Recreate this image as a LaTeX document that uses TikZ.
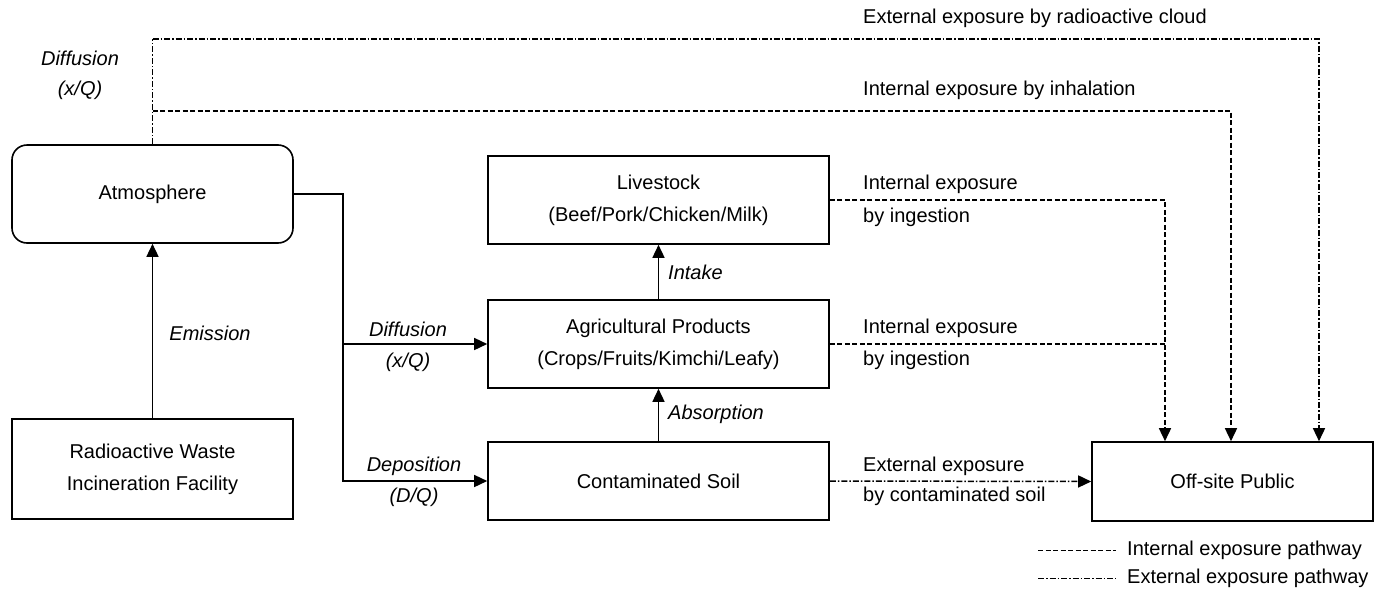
\documentclass[tikz,border=0pt]{standalone}
\usepackage{fontspec}
\setmainfont{Liberation Sans}
\usetikzlibrary{arrows.meta}
\begin{document}
\begin{tikzpicture}[x=1pt,y=-1pt,
  every node/.style={font=\fontsize{20}{32}\selectfont, inner sep=0pt},
  box/.style={draw, line width=1.6pt, align=center},
  lbl/.style={anchor=west},
  itl/.style={font=\fontsize{20}{32}\selectfont\itshape},
  conn/.style={line width=1.5pt},
  arr/.style={-{Triangle[length=13pt,width=12pt]}},
  intl/.style={conn, dash pattern=on 5pt off 2.5pt},
  extl/.style={conn, dash pattern=on 6pt off 2pt on 1.5pt off 2pt},
]
\useasboundingbox (0,0) rectangle (1389,592);
% boxes
\node[box, rounded corners=15pt, minimum width=281pt, minimum height=98pt] (atm) at (152.5,194) {Atmosphere};
\node[box, minimum width=281pt, minimum height=100pt] (src) at (152.5,469) {Radioactive Waste\\Incineration Facility};
\node[box, minimum width=341pt, minimum height=88pt] (live) at (658.5,200) {Livestock\\(Beef/Pork/Chicken/Milk)};
\node[box, minimum width=341pt, minimum height=88pt] (agri) at (658.5,344) {Agricultural Products\\(Crops/Fruits/Kimchi/Leafy)};
\node[box, minimum width=341pt, minimum height=78pt] (soil) at (658.5,481) {Contaminated Soil};
\node[box, minimum width=281pt, minimum height=79pt] (pub) at (1232.5,481.5) {Off-site Public};
% helper coordinates
\coordinate (jt) at (343,194);
\coordinate (jm) at (343,344);
\coordinate (jb) at (343,481);
\coordinate (t1) at (152.5,39);
\coordinate (t2) at (152.5,111);
\coordinate (c1) at (1319,39);
\coordinate (c2) at (1231,111);
\coordinate (i1) at (1165,200);
% solid connectors
\draw[conn, arr] (src.north) -- (atm.south);
\draw[conn, arr] (atm.east) -- (jt) -- (jb) -- (soil.west);
\draw[conn, arr] (jm) -- (agri.west);
\draw[conn, arr] (agri.north) -- (live.south);
\draw[conn, arr] (soil.north) -- (agri.south);
% exposure pathways
\draw[extl] (atm.north) -- (t1);
\draw[extl, arr] (t1) -- (c1) -- (c1 |- pub.north);
\draw[intl, arr] (t2) -- (c2) -- (c2 |- pub.north);
\draw[intl, arr] (live.east) -- (i1) -- (i1 |- pub.north);
\draw[intl] (agri.east) -- (agri.east -| i1);
\draw[extl, arr] (soil.east) -- (pub.west);
% edge labels
\node[itl] (ldif1) at (80,58) {Diffusion};
\node[itl] (ldif2) at (80,90) {(x/Q)};
\node[itl] (lem) at (210,333) {Emission};
\node[itl] (ld1) at (408,329) {Diffusion};
\node[itl] (ld2) at (408,362) {(x/Q)};
\node[itl] (ldp1) at (414,466) {Deposition};
\node[itl] (ldp2) at (414,497) {(D/Q)};
\node[itl, anchor=west] (lin) at (668,272) {Intake};
\node[itl, anchor=west] (lab) at (668,414) {Absorption};
\node[lbl] (lcloud) at (863,18) {External exposure by radioactive cloud};
\node[lbl] (linh) at (863,90) {Internal exposure by inhalation};
\node[lbl] (lig1) at (863,184) {Internal exposure};
\node[lbl] (lig2) at (863,217) {by ingestion};
\node[lbl] (lag1) at (863,328) {Internal exposure};
\node[lbl] (lag2) at (863,360) {by ingestion};
\node[lbl] (ls1) at (863,466) {External exposure};
\node[lbl] (ls2) at (863,496) {by contaminated soil};
% legend
\coordinate (a1) at (1038,550);
\coordinate (a2) at (1116,550);
\coordinate (b1) at (1038,578);
\coordinate (b2) at (1116,578);
\draw[intl, line width=1pt] (a1) -- (a2);
\draw[extl, line width=1pt] (b1) -- (b2);
\node[lbl] (leg1) at (1127,550) {Internal exposure pathway};
\node[lbl] (leg2) at (1127,578) {External exposure pathway};
\end{tikzpicture}
\end{document}
